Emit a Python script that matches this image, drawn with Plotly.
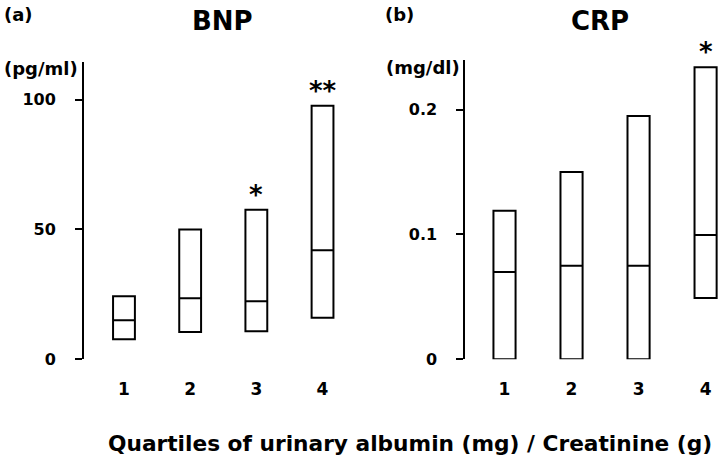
import plotly.graph_objects as go

quartiles = [1, 2, 3, 4]
quartile_labels = ["1", "2", "3", "4"]

# BNP (pg/ml): box bottom (25th), median, top (75th)
bnp_q1 = [7.7, 10.5, 10.8, 16.0]
bnp_median = [15.0, 23.5, 22.3, 42.0]
bnp_q3 = [24.3, 50.0, 57.6, 97.7]
bnp_sig = ["", "", "*", "**"]

# CRP (mg/dl)
crp_q1 = [0.0, 0.0, 0.0, 0.049]
crp_median = [0.07, 0.075, 0.075, 0.0995]
crp_q3 = [0.119, 0.150, 0.195, 0.234]
crp_sig = ["", "", "", "*"]

bnp_ticks = [0, 50, 100]
bnp_ticktext = ["0", "50", "100"]
crp_ticks = [0, 0.1, 0.2]
crp_ticktext = ["0", "0.1", "0.2"]

W, H = 721, 461
H_EFF = 452  # rendered plot height observed in the viewer
FONT = "DejaVu Sans"

def px_x(p):
    return p / W

def px_y(p):
    return (H_EFF - p) / H_EFF

fig = go.Figure()

box_style = dict(
    fillcolor="white",
    line=dict(color="black", width=2),
    whiskerwidth=0,
    width=0.33,
    boxpoints=False,
    showlegend=False,
    hoverinfo="skip",
)

fig.add_trace(go.Box(x=quartiles, q1=bnp_q1, median=bnp_median, q3=bnp_q3,
                     lowerfence=bnp_q1, upperfence=bnp_q3,
                     xaxis="x", yaxis="y", **box_style))
fig.add_trace(go.Box(x=quartiles, q1=crp_q1, median=crp_median, q3=crp_q3,
                     lowerfence=crp_q1, upperfence=crp_q3,
                     xaxis="x2", yaxis="y2", **box_style))

xaxis_common = dict(
    tickmode="array", tickvals=quartiles, ticktext=["<b>%s</b>" % t for t in quartile_labels],
    showline=False, showgrid=False, zeroline=False, ticks="",
    tickfont=dict(family=FONT, size=17, color="black"),
    ticklabelstandoff=18, fixedrange=True,
)
yaxis_common = dict(
    showline=True, linecolor="black", linewidth=2,
    ticks="outside", ticklen=7, tickwidth=2, tickcolor="black",
    showgrid=False, zeroline=False,
    tickfont=dict(family=FONT, size=16, color="black"),
    ticklabelstandoff=16, fixedrange=True,
)

fig.update_layout(
    width=W, height=H, autosize=False,
    margin=dict(l=0, r=0, t=0, b=0),
    paper_bgcolor="white", plot_bgcolor="white",
    xaxis=dict(domain=[px_x(84), px_x(350)], range=[0.396, 4.415], anchor="y", **xaxis_common),
    yaxis=dict(domain=[px_y(360), px_y(62)], range=[0, 114.6], anchor="x",
               tickvals=bnp_ticks, ticktext=["<b>%s</b>" % t for t in bnp_ticktext], **yaxis_common),
    xaxis2=dict(domain=[px_x(465.3), 1.0], range=[0.415, 4.23], anchor="y2", **xaxis_common),
    yaxis2=dict(domain=[px_y(360), px_y(60)], range=[0, 0.24], anchor="x2",
                tickvals=crp_ticks, ticktext=["<b>%s</b>" % t for t in crp_ticktext], **yaxis_common),
)

annotations = []

def txt(x, y, s, size, xanchor="center", yanchor="middle"):
    annotations.append(dict(xref="paper", yref="paper", x=px_x(x), y=px_y(y), text=s,
                            showarrow=False, xanchor=xanchor, yanchor=yanchor,
                            font=dict(family=FONT, size=size, color="black")))

txt(2, 15, "<b>(a)</b>", 18, xanchor="left")
txt(383, 15, "<b>(b)</b>", 18, xanchor="left")
txt(223, 21, "<b>BNP</b>", 26)
txt(600, 21, "<b>CRP</b>", 26)
txt(2, 69, "<b>(pg/ml)</b>", 18, xanchor="left")
txt(384, 68, "<b>(mg/dl)</b>", 18, xanchor="left")
txt(410, 444, "<b>Quartiles of urinary albumin (mg) / Creatinine (g)</b>", 21.7)

for xv, top, s in zip(quartiles, bnp_q3, bnp_sig):
    if s:
        annotations.append(dict(xref="x", yref="y", x=xv, y=top, text="<b>" + s + "</b>",
                                showarrow=False, yanchor="bottom", yshift=-2,
                                font=dict(family=FONT, size=26, color="black")))
for xv, top, s in zip(quartiles, crp_q3, crp_sig):
    if s:
        annotations.append(dict(xref="x2", yref="y2", x=xv, y=top, text="<b>" + s + "</b>",
                                showarrow=False, yanchor="bottom", yshift=-2,
                                font=dict(family=FONT, size=26, color="black")))

fig.update_layout(annotations=annotations)

fig.write_html("out.html", config={"responsive": False, "displayModeBar": False},
               post_script="document.body.style.margin='0px';")
